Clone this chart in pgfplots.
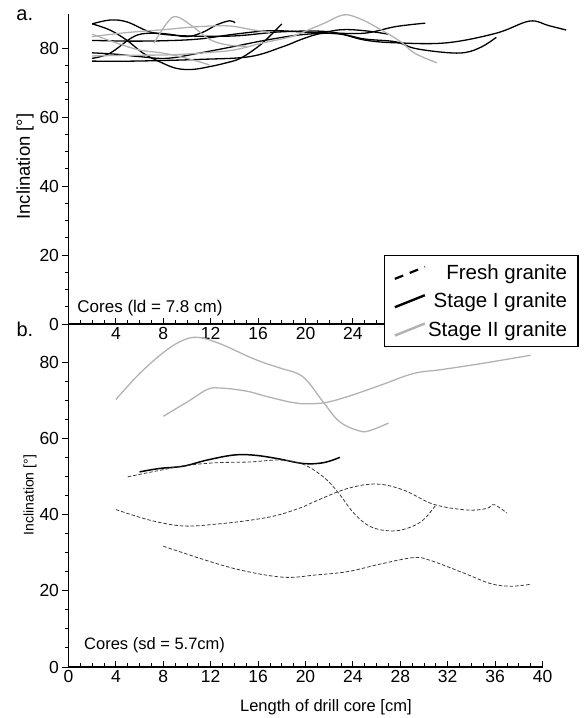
\documentclass[border=0pt]{standalone}
\usepackage{fontspec}
\setmainfont{Liberation Sans}
\usepackage{pgfplots}
\pgfplotsset{compat=1.18}
\definecolor{stg}{RGB}{178,178,178}
\definecolor{frs}{RGB}{55,55,55}
\pgfplotsset{
  mystyle/.style={
    scale only axis,
    axis x line=bottom, axis y line=left,
    axis line style={-, line width=1.4bp, black},
    tick style={black, line width=0.9bp},
    major tick length=6bp, minor tick length=3.5bp,
    xtick align=inside, ytick align=outside,
    minor y tick num=3,
    ticklabel style={font=\fontsize{17.5bp}{20bp}\selectfont},
    /pgf/number format/assume math mode=true,
    clip=false,
  },
  blk/.style={black, line width=1.3bp, smooth, tension=0.6, forget plot},
  gry/.style={stg, line width=1.3bp, smooth, tension=0.6, forget plot},
  dsh/.style={frs, line width=0.8bp, dash pattern=on 3.5bp off 2bp, smooth, tension=0.6, forget plot},
}
\begin{document}
\begin{tikzpicture}
\path[use as bounding box] (-68.5bp,-51bp) rectangle (515.5bp,667bp);
% ---------------- panel a ----------------
\begin{axis}[mystyle,
  at={(0bp,343bp)}, anchor=south west,
  width=509.6bp, height=310.5bp,
  xmin=0, xmax=43, ymin=0, ymax=90,
  xtick={4,8,...,24}, minor xtick={1,2,...,43}, ytick={0,20,...,80},
  ylabel={Inclination [°]},
  ylabel style={font=\fontsize{18.5bp}{21bp}\selectfont, at={(axis description cs:-0.0854,0.507)}, anchor=center},
]
\addplot[blk] coordinates {(2,87) (3.5,85.2) (4.9,82.3) (6.3,78.5) (7.7,76) (9.1,74.1) (10.5,73.8) (11.9,74.6) (13.2,75.6) (14.5,77) (16,80.4) (17,83.5) (18,87)};
\addplot[blk] coordinates {(2,87) (3.5,88.1) (4.9,87.6) (6.6,85) (7.7,84.1) (10,83.5) (14,83.5) (18,84.7) (22,84.7) (25,82.3) (27.7,81.5) (31.9,81.5) (36.1,84.3) (38.9,87.8) (40.5,86.5) (42,85.2)};
\addplot[blk] coordinates {(2,82.2) (5,82) (8,82.1) (11,82.6) (14,84) (17,85) (20,84.6) (23,84) (25,82.6) (27.6,81.8) (29.2,79.9) (31.8,78.7) (33.5,78.7) (34.9,80.4) (36.1,83.1)};
\addplot[blk] coordinates {(2,77) (3.5,78.5) (5.5,83.3) (6.9,84.3) (8.5,84) (10,83.3) (11.3,84.5) (12.5,86.7) (13.6,87.9) (14.05,87.3)};
\addplot[blk] coordinates {(2,78.6) (4,78.2) (6,77.5) (8.3,77) (11,78.5) (13.9,80.4) (16.7,82.3) (19.5,83.8) (22,84.3) (25,84.3) (27.6,86.2) (30.1,87.2)};
\addplot[blk] coordinates {(2,76.2) (5.5,76.2) (11.1,76.7) (15.3,77.5) (18.1,80.4) (19.5,82.3) (21,84) (23,85.3) (25,85) (27,84)};
\addplot[gry] coordinates {(7.2,81.4) (8.3,87.2) (9.1,89.1) (10.5,86.2) (11.9,82.5) (13.4,80.9) (15,80.5)};
\addplot[gry] coordinates {(2,84) (4.1,81.4) (6,79.4) (8,78.5) (10,77) (11.9,75.1)};
\addplot[gry] coordinates {(2,83.3) (5,84.5) (8,85.3) (11,86.2) (13.5,86.4) (15.5,85.3) (17,84.5)};
\addplot[gry] coordinates {(2,77.7) (5,77.9) (8.3,78) (11,78.5) (13.9,79.4) (16.3,81.4) (18.8,83.3) (20.2,85.2) (21.6,87.2) (23.2,89.6) (24.5,88.6) (25.9,86.2) (28,81.9) (29.2,78.5) (31.1,75.7)};
\node[anchor=base west, font=\fontsize{17bp}{20bp}\selectfont] at (axis cs:0.46,3.2) {Cores (ld = 7.8 cm)};
\node[anchor=base west, font=\fontsize{20bp}{24bp}\selectfont] at (axis description cs:-0.109,0.979) {a.};
\end{axis}
% ---------------- panel b ----------------
\begin{axis}[mystyle,
  at={(0bp,0bp)}, anchor=south west,
  width=474bp, height=343bp,
  xmin=0, xmax=40, ymin=0, ymax=90,
  xtick={0,4,...,40}, minor x tick num=3, ytick={0,20,...,80},
  xlabel={Length of drill core [cm]},
  xlabel style={font=\fontsize{16.5bp}{19bp}\selectfont, at={(axis description cs:0.543,-0.117)}, anchor=center},
  ylabel={Inclination [°]},
  ylabel style={font=\fontsize{14bp}{17bp}\selectfont, at={(axis description cs:-0.0812,0.501)}, anchor=center},
  legend image code/.code={\draw[#1] (0bp,-6bp) -- (30bp,6bp);},
  legend cell align=right,
  legend style={at={(rel axis cs:0.6656,1.201)}, anchor=north west, draw=black, line width=1.3bp, fill=white,
    font=\fontsize{20.5bp}{24bp}\selectfont, inner xsep=9bp, inner ysep=7bp, row sep=8bp},
]
\addlegendimage{black, line width=2.2bp, dash pattern=on 9bp off 7bp}
\addlegendentry{Fresh granite}
\addlegendimage{black, line width=2.4bp}
\addlegendentry{Stage I granite}
\addlegendimage{stg, line width=2.4bp}
\addlegendentry{Stage II granite}
\addplot[gry] coordinates {(4,70.2) (6,77) (8,82.5) (9.5,85.5) (10.9,86.5) (12.8,84.8) (15.3,81.3) (16.7,79.6) (17.9,78.4) (19.8,76.1) (21.5,69.5) (22.9,64.3) (24.6,61.9) (25.5,62.1) (27,64)};
\addplot[gry] coordinates {(8,65.8) (10,69.5) (11.7,72.8) (12.8,73.2) (15,72.4) (16.7,71) (18.7,69.5) (19.6,69.1) (21.5,69.3) (23.5,70.9) (26.3,73.9) (29.1,77) (31.4,78) (34.8,79.6) (39,81.8)};
\addplot[blk, line width=1.5bp] coordinates {(6,51.2) (7.7,52.1) (9.7,52.7) (11.7,54.3) (13.9,55.6) (15.6,55.6) (17.6,54.7) (19.8,53.4) (21.5,53.6) (22.9,55)};
\addplot[dsh] coordinates {(5,49.9) (7.7,51.6) (10,52.9) (12.5,53.6) (15.3,53.8) (17.9,54.3) (19.8,53.2) (21.5,49.9) (22.7,46) (24.1,40.3) (25.5,36.8) (27.2,35.7) (28.6,36.4) (29.9,38.5) (31,42.5)};
\addplot[dsh] coordinates {(4,41.3) (6.9,38.5) (9.7,37) (12.5,37.5) (15.3,38.5) (17.6,39.8) (19.6,41.8) (20.7,43.3) (23.5,46.8) (26,48) (28.3,46.4) (30.8,42.7) (33.6,41.2) (35.3,41.6) (35.9,42.6) (37,40.4)};
\addplot[dsh] coordinates {(8,31.7) (11.1,28.5) (13.9,25.9) (16.7,24.1) (18.7,23.5) (20.7,24.1) (23.5,25) (26.3,27) (29.1,28.7) (30.5,28) (33.4,24.6) (35.6,21.9) (37.3,21.2) (39,21.7)};
\node[anchor=base west, font=\fontsize{16.5bp}{19bp}\selectfont] at (axis cs:1.03,4.64) {Cores (sd = 5.7cm)};
\node[anchor=base west, font=\fontsize{20bp}{24bp}\selectfont] at (axis description cs:-0.117,0.963) {b.};
\end{axis}
\end{tikzpicture}
\end{document}
